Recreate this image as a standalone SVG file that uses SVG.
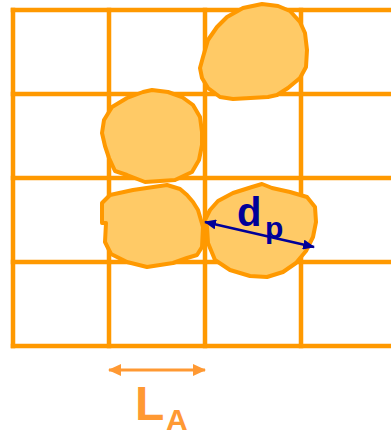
<svg xmlns="http://www.w3.org/2000/svg" width="391" height="434" viewBox="0 0 391 434">
<defs>
<style>
.grid{stroke:#FF9900;stroke-width:4.5;fill:none;stroke-linecap:square}
.blob{fill:#FFCA66;stroke:#FF9900;stroke-width:4;stroke-linejoin:round}
.dim{stroke:#000099;stroke-width:2.8;fill:none}
.dimA{stroke:#FF9933;stroke-width:3;fill:none}
.t{font-family:"Liberation Sans",Arial,sans-serif;font-weight:bold}
</style>
<marker id="ah" viewBox="0 0 12 10" refX="11" refY="5" markerWidth="12" markerHeight="10" markerUnits="userSpaceOnUse" orient="auto-start-reverse"><path d="M0,0 L12,5 L0,10 Z" fill="#000099"/></marker>
<marker id="ahA" viewBox="0 0 13 12" refX="12" refY="6" markerWidth="13" markerHeight="12" markerUnits="userSpaceOnUse" orient="auto-start-reverse"><path d="M0,0 L13,6 L0,12 Z" fill="#FF9933"/></marker>
</defs>
<rect width="391" height="434" fill="#FFFFFF"/>
<g id="grid" class="grid">
<path d="M13,10 V346 M109,10 V346 M205,10 V346 M301,10 V346"/>
<path d="M13,10 H393 M13,94 H393 M13,178 H393 M13,262 H393 M13,346 H393"/>
</g>
<g id="particle1"><polygon class="blob" points="227,17 243,8 262,4 278,6 290,11 300,22 305,33 307,50 306,67 300,78 288,88 277,95 268,97 233,99 220,97 208,88 202,78 200,68 203,57 208,40 217,27"/></g>
<g id="particle2"><polygon class="blob" points="152,90 168,92 182,97 193,105 200,117 202,132 202,145 199,160 192,172 175,180 145,182 127,175 115,171 109,158 105,146 102,133 104,120 112,107 127,98 143,92"/></g>
<g id="particle3"><polygon class="blob" points="110,195 133,190 167,185 180,189 187,195 193,202 198,210 203,227 202,247 197,255 187,258 173,263 147,267 127,262 111,254 105,242 106,223 102,223 102,203"/></g>
<g id="particle4"><polygon class="blob" points="210,210 218,201 233,193 252,187 262,184 272,188 290,192 307,197 315,207 316,222 313,237 306,251 296,263 283,272 267,277 250,276 230,270 215,260 208,243 207,227 205,220"/></g>
<g id="connectors">
<line class="dim" x1="205" y1="222" x2="314" y2="247" marker-start="url(#ah)" marker-end="url(#ah)"/>
<line class="dimA" x1="109" y1="370" x2="205" y2="370" marker-start="url(#ahA)" marker-end="url(#ahA)"/>
</g>
<g id="label-dp" class="t" fill="#000099"><text x="237" y="226" font-size="40">d</text><text x="265" y="238" font-size="30">p</text></g>
<g id="label-LA" class="t" fill="#FF9933"><text x="135" y="420" font-size="48">L</text><text x="166" y="430" font-size="30">A</text></g>
</svg>
